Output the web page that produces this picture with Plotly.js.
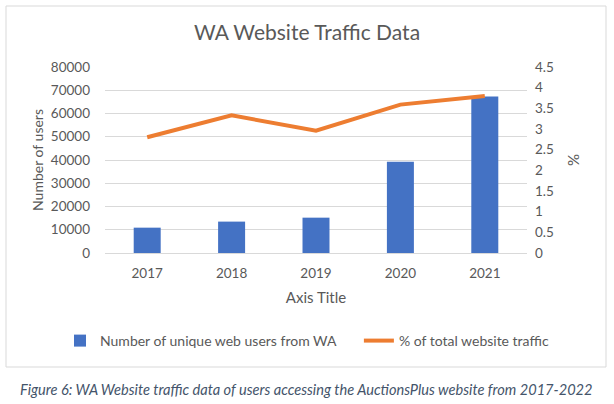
<!DOCTYPE html>
<html>
<head>
<meta charset="utf-8">
<script src="https://cdn.plot.ly/plotly-3.0.1.min.js"></script>
<style>
html,body{margin:0;padding:0;background:#fff;}
#chart{width:614px;height:404px;}
</style>
</head>
<body>
<div id="chart"></div>
<script>
const years = ["2017", "2018", "2019", "2020", "2021"];
const uniqueUsers = [10900, 13500, 15200, 39200, 67300];
const trafficPct = [2.80, 3.33, 2.96, 3.59, 3.80];
const leftTicks = [0, 10000, 20000, 30000, 40000, 50000, 60000, 70000, 80000];
const rightTicks = [0, 0.5, 1, 1.5, 2, 2.5, 3, 3.5, 4, 4.5];
const seriesNames = ["Number of unique web users from WA", "% of total website traffic"];

const FONT = "Lato, 'Open Sans', sans-serif";
const TXT = "#595959";

// paper spans x 6..606 px; plot area x 105..527 px
const PL = 6, PW = 600;
const px = v => (v - PL) / PW;
const py = v => (253 - v) / 186;
const PAD = "\u00a0".repeat(5); // extra spacing between legend entries

const traces = [
  {
    type: "bar",
    x: years,
    y: uniqueUsers,
    name: seriesNames[0] + PAD,
    marker: {color: "#4472C4"},
    width: 0.32
  },
  {
    type: "scatter",
    mode: "lines",
    x: years,
    y: trafficPct,
    yaxis: "y2",
    name: seriesNames[1],
    line: {color: "#ED7D31", width: 4}
  }
];

const layout = {
  width: 614,
  height: 404,
  margin: {l: PL, r: 614 - PL - PW, t: 67, b: 151},
  paper_bgcolor: "#ffffff",
  plot_bgcolor: "#ffffff",
  font: {family: FONT, color: TXT, size: 13},
  showlegend: true,
  title: {
    text: "WA Website Traffic Data",
    font: {family: FONT, size: 21, color: TXT},
    x: 0.5, xref: "container", xanchor: "center",
    y: 1 - 33/404, yref: "container", yanchor: "middle"
  },
  xaxis: {
    type: "category",
    domain: [px(105), px(527)],
    tickvals: years,
    ticktext: years,
    tickangle: 0,
    showgrid: false,
    showline: true,
    linecolor: "#d9d9d9",
    linewidth: 1,
    ticks: "",
    ticklabelstandoff: 8,
    tickfont: {family: FONT, size: 13.5, color: TXT},
    title: {text: "Axis Title", font: {family: FONT, size: 15, color: TXT}, standoff: 12},
    zeroline: false,
    automargin: false
  },
  yaxis: {
    range: [0, 80000],
    tickvals: leftTicks,
    ticktext: leftTicks.map(String),
    showgrid: true,
    gridcolor: "#d9d9d9",
    gridwidth: 1,
    zeroline: false,
    showline: false,
    ticks: "",
    ticklabelstandoff: 14,
    tickfont: {family: FONT, size: 13.5, color: TXT},
    title: {text: "Number of users", font: {family: FONT, size: 14, color: TXT}, standoff: 3},
    automargin: false
  },
  yaxis2: {
    range: [0, 4.5],
    overlaying: "y",
    side: "right",
    tickvals: rightTicks,
    ticktext: rightTicks.map(String),
    showgrid: false,
    zeroline: false,
    showline: false,
    ticks: "",
    ticklabelstandoff: 7,
    tickfont: {family: FONT, size: 13.5, color: TXT},
    title: {text: "%", font: {family: FONT, size: 15, color: TXT}, standoff: 15},
    automargin: false
  },
  legend: {
    orientation: "h",
    x: px(60), xanchor: "left",
    y: py(341), yanchor: "middle",
    font: {family: FONT, size: 14, color: TXT},
    itemwidth: 30,
    bgcolor: "rgba(0,0,0,0)"
  },
  bargap: 0.68,
  shapes: [
    {
      type: "rect", xref: "paper", yref: "paper",
      x0: px(6), x1: px(606),
      y0: py(367), y1: py(6),
      line: {color: "#d9d9d9", width: 1},
      fillcolor: "rgba(0,0,0,0)",
      layer: "below"
    }
  ],
  annotations: [
    {
      text: "<i>Figure 6: WA Website traffic data of users accessing the AuctionsPlus website from 2017-2022</i>",
      xref: "paper", yref: "paper",
      x: px(306), y: py(389),
      xanchor: "center", yanchor: "middle",
      showarrow: false,
      font: {family: FONT, size: 14.6, color: "#44546A"}
    }
  ]
};

Plotly.newPlot("chart", traces, layout, {displayModeBar: false, staticPlot: true});
</script>
</body>
</html>
